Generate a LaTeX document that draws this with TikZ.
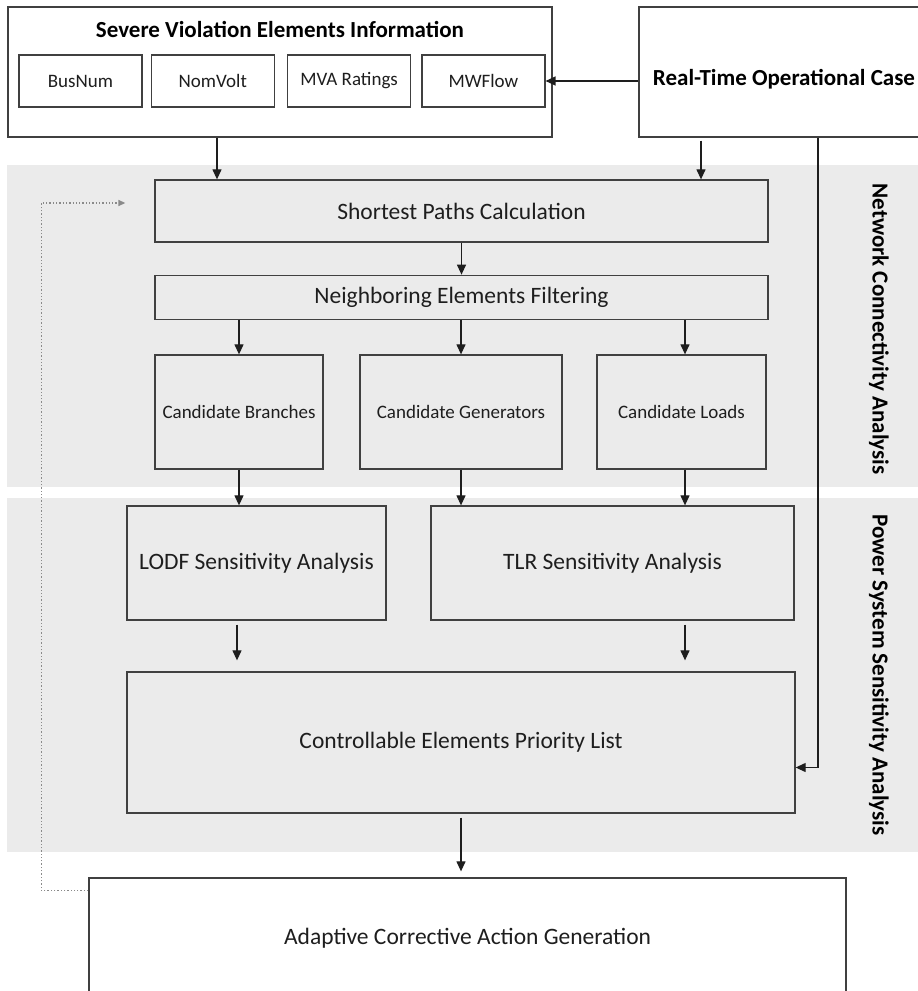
\documentclass[tikz,border=0pt]{standalone}
\usepackage{fontspec}
\setmainfont{Carlito}
\usepackage{xcolor}
\usepackage{tikz}
\usetikzlibrary{arrows.meta,positioning,calc}
\definecolor{Ink}{HTML}{1E1E1E}
\definecolor{Edge}{HTML}{404040}
\definecolor{Band}{HTML}{EBEBEB}
\definecolor{Dots}{HTML}{8A8A8A}
\tikzset{
  stage/.style={draw=Edge,fill=white,line width=1.3pt,inner sep=0pt,text=Ink,font=\fontsize{23.5}{27}\selectfont},
  stagein/.style={stage,fill=none},
  item/.style={stage,minimum width=123pt,minimum height=52pt,font=\fontsize{19}{22}\selectfont},
  cand/.style={stagein,minimum height=114pt,font=\fontsize{19}{22}\selectfont},
  heading/.style={text=black,font=\bfseries\fontsize{23}{27}\selectfont},
  sidelabel/.style={rotate=-90,text=black,font=\bfseries\fontsize{23}{27}\selectfont},
  arrow/.style={-{Triangle[length=10pt,width=9pt]},draw=Ink,line width=1.2pt},
  feedback/.style={-{Triangle[length=7pt,width=6pt]},draw=Dots,line width=1.3pt,dotted}
}
\begin{document}
\begin{tikzpicture}[x=1pt,y=-1pt]
  \clip (0,0) rectangle (918,991);
  % shaded analysis bands
  \fill[Band] (7,165) rectangle (918,487);
  \fill[Band] (7,498) rectangle (918,852);
  \node[sidelabel] (netlabel) at (879,329) {Network Connectivity Analysis};
  \node[sidelabel] (pslabel) at (879,675) {Power System Sensitivity Analysis};

  % inputs
  \node[stage,minimum width=544pt,minimum height=130pt] (sveinfo) at (280,72) {};
  \node[heading] (svetitle) at (280,29) {Severe Violation Elements Information};
  \node[item] (busnum) at (80.5,81) {BusNum};
  \node[item,right=8pt of busnum] (nomvolt) {NomVolt};
  \node[item,right=12pt of nomvolt] (mvarating) {MVA Ratings};
  \node[item,right=10pt of mvarating] (mwflow) {MWFlow};
  \node[stage,minimum width=292pt,minimum height=130pt] (rtcase) at (785,72) {};
  \node[heading] (rttitle) at (784,79) {Real-Time Operational Case};

  % connectivity stage
  \node[stagein,minimum width=613pt,minimum height=62pt] (shortest) at (461.5,211) {Shortest Paths Calculation};
  \node[stagein,minimum width=613pt,minimum height=44pt,below=32pt of shortest] (neighbor) {Neighboring Elements Filtering};
  \node[cand,minimum width=168pt] (candbranch) at (239,412) {Candidate Branches};
  \node[cand,minimum width=202pt] (candgen) at (461,412) {Candidate Generators};
  \node[cand,minimum width=169pt] (candload) at (681.5,412) {Candidate Loads};

  % sensitivity stage
  \node[stagein,minimum width=259pt,minimum height=114pt] (lodf) at (256.5,563) {LODF Sensitivity Analysis};
  \node[stagein,minimum width=363pt,minimum height=114pt] (tlr) at (612.5,563) {TLR Sensitivity Analysis};
  \node[stagein,minimum width=668pt,minimum height=141pt] (priority) at (461,742.5) {Controllable Elements Priority List};
  \node[stage,minimum width=757pt,minimum height=120pt] (adaptive) at (467.5,938) {Adaptive Corrective Action Generation};

  % connectors
  \coordinate (colS) at (217,0);
  \coordinate (colT) at (701,0);
  \coordinate (colU) at (818,0);
  \coordinate (colL) at (237,0);
  \coordinate (colR) at (685,0);
  \draw[arrow] (rtcase.west |- mwflow) -- (mwflow.east);
  \draw[arrow] (colS |- sveinfo.south) -- (colS |- shortest.north);
  \draw[arrow] ($(colT |- rtcase.south)+(0,3)$) -- (colT |- shortest.north);
  \draw[arrow] (shortest) -- (neighbor);
  \draw[arrow] (candbranch.north |- neighbor.south) -- (candbranch.north);
  \draw[arrow] (candgen.north |- neighbor.south) -- (candgen.north);
  \draw[arrow] (colR |- neighbor.south) -- (colR |- candload.north);
  \draw[arrow] (candbranch.south) -- (candbranch.south |- lodf.north);
  \draw[arrow] (candgen.south) -- (candgen.south |- tlr.north);
  \draw[arrow] (colR |- candload.south) -- (colR |- tlr.north);
  \coordinate (lodfout) at ($(colL |- lodf.south)+(0,4)$);
  \coordinate (tlrout) at ($(colR |- tlr.south)+(0,4)$);
  \draw[arrow] (lodfout) -- ($(colL |- priority.north)+(0,-11)$);
  \draw[arrow] (tlrout) -- ($(colR |- priority.north)+(0,-11)$);
  \draw[arrow] ($(priority.south)+(0,4)$) -- ($(priority.south |- adaptive.north)+(0,-6)$);
  \draw[arrow] (colU |- rtcase.south) |- ($(priority.east)+(0,25)$);
  \draw[feedback] ($(adaptive.north west)+(0,13)$) -| ($(shortest.west)+(-113,-8)$) -- ($(shortest.west)+(-29,-8)$);
\end{tikzpicture}
\end{document}
